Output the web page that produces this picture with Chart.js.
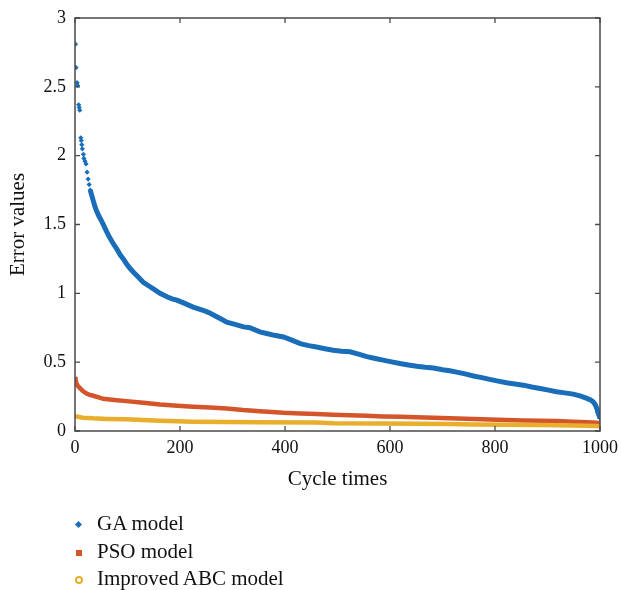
<!DOCTYPE html>
<html>
<head>
<meta charset="utf-8">
<script src="https://cdn.jsdelivr.net/npm/chart.js@4.4.1/dist/chart.umd.min.js"></script>
<style>
  html, body { margin: 0; padding: 0; background: #ffffff; }
  #wrap { position: relative; width: 621px; height: 590px; }
  #c { position: absolute; left: 0; top: 0; }
  .leg { position: absolute; left: 97px; font-family: "Liberation Serif", "Times New Roman", serif; font-size: 21px; color: #111; line-height: 24px; white-space: nowrap; }
  .mk { position: absolute; }
</style>
</head>
<body>
<div id="wrap">
  <canvas id="c" width="621" height="590"></canvas>
  <div class="mk" style="left:76px;top:522px;width:5px;height:5px;background:#1a6db8;transform:rotate(45deg);"></div>
  <div class="leg" style="top:511px;">GA model</div>
  <div class="mk" style="left:76px;top:550px;width:6px;height:6px;background:#d4552a;"></div>
  <div class="leg" style="top:539px;">PSO model</div>
  <div class="mk" style="left:75px;top:576px;width:4px;height:4px;border:2px solid #e8ae2c;border-radius:50%;"></div>
  <div class="leg" style="top:566px;">Improved ABC model</div>
</div>
<script>
// ---- data ----
const xTicks = [0, 200, 400, 600, 800, 1000];
const yTicks = [0, 0.5, 1, 1.5, 2, 2.5, 3];

const gaX = [1, 2, 4, 5, 7, 8, 9, 11, 12, 13, 14, 16, 17, 19, 21, 23, 25, 27, 29,
  32, 35, 38, 41, 45, 50, 54, 57, 60, 66, 73, 80, 86, 92, 98, 105, 111, 120, 130, 140, 150,
  162, 175, 185, 194, 210, 225, 244, 255, 270, 280, 289, 305, 321, 333, 352, 365, 380, 397,
  413, 429, 445, 460, 476, 492, 508, 524, 540, 556, 572, 587, 603, 619, 635, 651, 667, 683,
  700, 714, 727, 743, 759, 775, 790, 806, 822, 838, 854, 870, 886, 902, 917, 933, 949, 962,
  975, 982, 987, 991, 994, 996, 998, 1000];
const gaY = [2.81, 2.64, 2.53, 2.51, 2.37, 2.35, 2.33, 2.13, 2.11, 2.08, 2.05, 2.01, 1.98, 1.96, 1.94, 1.88, 1.83, 1.79, 1.75,
  1.71, 1.67, 1.63, 1.60, 1.565, 1.53, 1.50, 1.475, 1.45, 1.405, 1.36, 1.32, 1.28, 1.25, 1.215, 1.18, 1.155, 1.12, 1.08, 1.055, 1.03,
  1.0, 0.975, 0.96, 0.95, 0.925, 0.90, 0.877, 0.86, 0.83, 0.81, 0.79, 0.775, 0.756, 0.75, 0.72, 0.708, 0.695, 0.683,
  0.66, 0.635, 0.62, 0.61, 0.598, 0.587, 0.58, 0.575, 0.558, 0.54, 0.527, 0.515, 0.502, 0.49, 0.48, 0.47, 0.463, 0.458,
  0.445, 0.438, 0.428, 0.415, 0.40, 0.388, 0.375, 0.362, 0.35, 0.342, 0.333, 0.32, 0.309, 0.297, 0.285, 0.277, 0.268, 0.255,
  0.237, 0.225, 0.212, 0.19, 0.164, 0.135, 0.115, 0.092];

const psoX = [0, 1, 3, 6, 10, 15, 22, 28, 35, 45, 54, 75, 98, 130, 162, 195, 225, 257, 289, 320, 352,
  397, 430, 460, 492, 524, 556, 587, 620, 651, 683, 714, 759, 790, 822, 854, 886, 917, 949, 975, 994, 1000];
const psoY = [0.393, 0.37, 0.345, 0.325, 0.31, 0.29, 0.272, 0.262, 0.256, 0.244, 0.234, 0.225, 0.217, 0.205, 0.193, 0.184, 0.176, 0.17, 0.164, 0.152, 0.143,
  0.132, 0.127, 0.123, 0.118, 0.114, 0.11, 0.106, 0.103, 0.100, 0.097, 0.093, 0.087, 0.083, 0.080, 0.077, 0.075, 0.072, 0.068, 0.064, 0.06, 0.055];

const abcX = [0, 5, 15, 35, 60, 98, 130, 162, 195, 225, 289, 352, 460, 492, 587, 714, 759, 886, 950, 994, 1000];
const abcY = [0.109, 0.103, 0.097, 0.092, 0.088, 0.085, 0.08, 0.075, 0.071, 0.068, 0.065, 0.063, 0.062, 0.056, 0.055, 0.051, 0.048, 0.043, 0.040, 0.036, 0.035];

const seriesNames = ['GA model', 'PSO model', 'Improved ABC model'];
const colors = ['#1a6db8', '#d4552a', '#e8ae2c'];

function pts(xs, ys) { return xs.map((x, i) => ({ x: x, y: ys[i] })); }

const FONT = '"Liberation Serif", "Times New Roman", serif';

const framePlugin = {
  id: 'frame',
  afterDraw(chart) {
    const ctx = chart.ctx;
    const a = chart.chartArea;
    const xs = chart.scales.x, ys = chart.scales.y;
    ctx.save();
    ctx.strokeStyle = '#4a4a4a';
    ctx.lineWidth = 1.5;
    ctx.strokeRect(a.left, a.top, a.right - a.left, a.bottom - a.top);
    ctx.lineWidth = 1.3;
    const L = 5;
    ctx.beginPath();
    xTicks.forEach(v => {
      const px = xs.getPixelForValue(v);
      ctx.moveTo(px, a.bottom); ctx.lineTo(px, a.bottom - L);
      ctx.moveTo(px, a.top); ctx.lineTo(px, a.top + L);
    });
    yTicks.forEach(v => {
      const py = ys.getPixelForValue(v);
      ctx.moveTo(a.left, py); ctx.lineTo(a.left + L, py);
      ctx.moveTo(a.right, py); ctx.lineTo(a.right - L, py);
    });
    ctx.stroke();
    ctx.restore();
  }
};

new Chart(document.getElementById('c'), {
  type: 'scatter',
  data: {
    datasets: [
      {
        label: seriesNames[0],
        data: pts(gaX, gaY),
        showLine: true,
        borderColor: colors[0],
        backgroundColor: colors[0],
        borderWidth: 5,
        pointStyle: 'rectRot',
        pointRadius: c => (c.raw && (c.raw.x <= 29 || c.raw.x >= 990)) ? 2.6 : 0,
        pointBorderWidth: 0,
        segment: { borderColor: c => c.p1.parsed.x <= 29 ? 'rgba(0,0,0,0)' : undefined },
        order: 2
      },
      {
        label: seriesNames[1],
        data: pts(psoX, psoY),
        showLine: true,
        borderColor: colors[1],
        backgroundColor: colors[1],
        borderWidth: 4.5,
        pointRadius: 0,
        order: 1
      },
      {
        label: seriesNames[2],
        data: pts(abcX, abcY),
        showLine: true,
        borderColor: colors[2],
        backgroundColor: colors[2],
        borderWidth: 4.5,
        pointRadius: 0,
        order: 0
      }
    ]
  },
  options: {
    responsive: false,
    animation: false,
    events: [],
    layout: { padding: { left: 0, top: 18, right: 21, bottom: 94 } },
    plugins: { legend: { display: false }, tooltip: { enabled: false } },
    scales: {
      x: {
        type: 'linear', min: 0, max: 1000,
        afterBuildTicks: s => { s.ticks = xTicks.map(v => ({ value: v })); },
        afterFit: s => { s.height = 65; s.paddingLeft = 0; s.paddingRight = 0; },
        grid: { display: false, drawTicks: false },
        border: { display: false },
        ticks: { color: '#111', padding: 6, maxRotation: 0, font: { family: FONT, size: 18 }, callback: v => String(v) },
        title: { display: true, text: 'Cycle times', color: '#111', padding: { top: 4, bottom: 4 }, font: { family: FONT, size: 21 } }
      },
      y: {
        type: 'linear', min: 0, max: 3,
        afterBuildTicks: s => { s.ticks = yTicks.map(v => ({ value: v })); },
        afterFit: s => { s.width = 75; s.paddingTop = 0; s.paddingBottom = 0; },
        grid: { display: false, drawTicks: false },
        border: { display: false },
        ticks: { color: '#111', padding: 9, font: { family: FONT, size: 18 }, callback: v => String(v) },
        title: { display: true, text: 'Error values', color: '#111', padding: { top: 6, bottom: 4 }, font: { family: FONT, size: 21 } }
      }
    }
  },
  plugins: [framePlugin]
});
</script>
</body>
</html>
